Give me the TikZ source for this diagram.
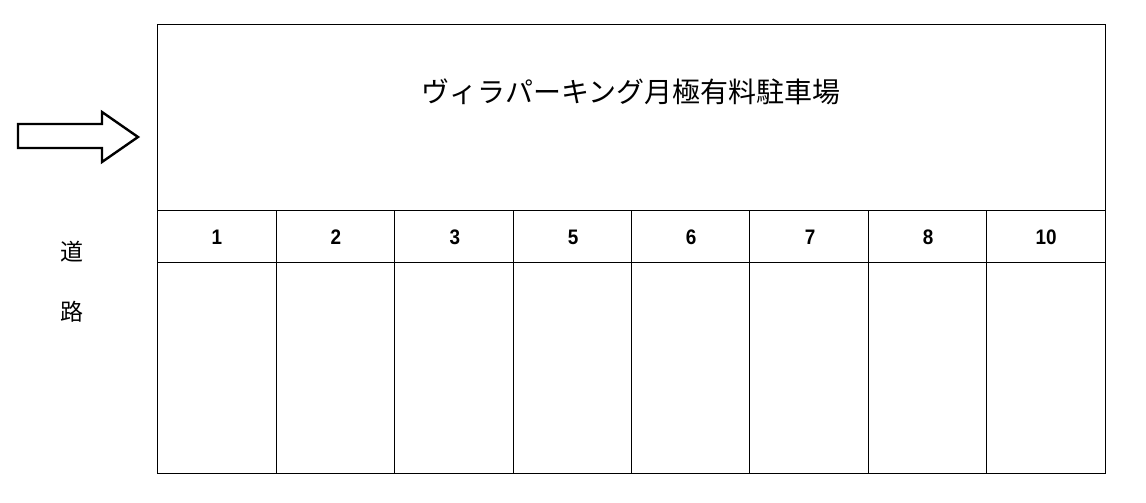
\documentclass[tikz,border=0pt]{standalone}
\usepackage{fontspec}
\setmainfont{Liberation Sans}
\newfontfamily\jpfont{Noto Sans CJK JP}
\usepackage{tikz}
\tikzset{every path/.append style={line width=1pt}}
\usetikzlibrary{positioning}
\tikzset{
 slotnum/.style={font=\fontsize{21}{21}\selectfont\bfseries, xscale=0.9},
 roadchar/.style={font=\jpfont\fontsize{23}{23}\selectfont},
}

\begin{document}
\begin{tikzpicture}[x=1pt,y=-1pt]
 \useasboundingbox (0,0) rectangle (1146,503);
 % outline and rows
 \draw (157,25) rectangle (1105,473);
 \draw (157,210) -- (1105,210);
 \draw (157,262) -- (1105,262);
 % slot dividers
 \foreach \x in {276,394,513,631,749,868,986}
  \draw (\x,210) -- (\x,473);
 % title
 \node[font=\jpfont\fontsize{28}{28}\selectfont] (title) at (631,92) {ヴィラパーキング月極有料駐車場};
 % slot numbers
 \node[slotnum] (s1) at (217,237) {1};
 \node[slotnum] (s2) at (336,237) {2};
 \node[slotnum] (s3) at (455,237) {3};
 \node[slotnum] (s5) at (573,237) {5};
 \node[slotnum] (s6) at (691,237) {6};
 \node[slotnum] (s7) at (810,237) {7};
 \node[slotnum] (s8) at (928,237) {8};
 \node[slotnum] (s10) at (1046,237) {10};
 % road
 \node[roadchar] (road1) at (72,252) {道};
 \node[roadchar] (road2) at (72,312) {路};
 % entrance arrow
 \draw[line width=2.4pt, line join=miter] (18,124) -- (102,124) -- (102,112) -- (138,137)
   -- (102,162) -- (102,148) -- (18,148) -- cycle;
\end{tikzpicture}
\end{document}
